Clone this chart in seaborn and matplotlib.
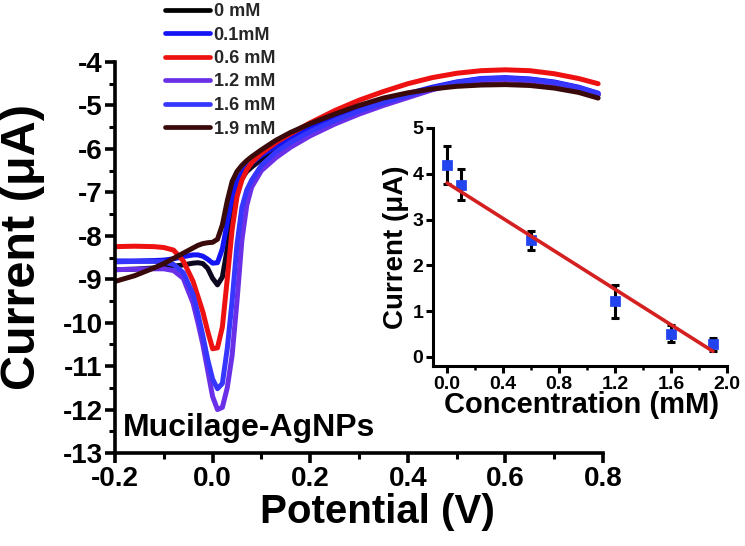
import numpy as np
import pandas as pd
import matplotlib
matplotlib.use("Agg")
import matplotlib.pyplot as plt
import seaborn as sns
from matplotlib.lines import Line2D
from matplotlib.ticker import MultipleLocator, FormatStrFormatter

sns.set_theme(style="ticks")
plt.rcParams['font.family'] = ['Liberation Sans', 'DejaVu Sans']
plt.rcParams['font.weight'] = 'bold'
plt.rcParams['axes.unicode_minus'] = False

# ---------------- data ----------------
potential = [-0.2, -0.16, -0.12, -0.1, -0.08, -0.06, -0.04, -0.03, -0.02, -0.01,
             0.0, 0.01, 0.02, 0.03, 0.04, 0.05, 0.06, 0.07, 0.08,
             0.1, 0.13, 0.16,
             0.2, 0.25, 0.3, 0.35, 0.4, 0.45, 0.5, 0.55, 0.6, 0.65, 0.7, 0.75, 0.79]

labels = ["0 mM", "0.1mM", "0.6 mM", "1.2 mM", "1.6 mM", "1.9 mM"]
colors = ["#0d0820", "#1414f5", "#ee1111", "#6a30e8", "#3636ff", "#3a0a0a"]

i_0 = [-8.78, -8.77, -8.74, -8.72, -8.70, -8.67, -8.63, -8.62, -8.64, -8.75,
       -8.98, -9.13, -8.95, -8.30, -7.50, -6.95, -6.68, -6.52, -6.42,
       -6.24, -6.00, -5.80,
       -5.56, -5.32, -5.10, -4.92, -4.76, -4.62, -4.50, -4.43, -4.41, -4.43, -4.50, -4.62, -4.76]
i_01 = [-8.58, -8.58, -8.57, -8.56, -8.53, -8.48, -8.44, -8.44, -8.47, -8.54,
        -8.63, -8.62, -8.30, -7.70, -7.10, -6.75, -6.55, -6.42, -6.32,
        -6.15, -5.93, -5.75,
        -5.52, -5.28, -5.07, -4.89, -4.73, -4.58, -4.46, -4.38, -4.36, -4.39, -4.46, -4.58, -4.72]
i_06 = [-8.25, -8.24, -8.25, -8.27, -8.33, -8.58, -9.05, -9.40, -9.75, -10.20,
        -10.60, -10.58, -10.10, -9.00, -7.86, -7.10, -6.72, -6.48, -6.32,
        -6.10, -5.85, -5.65,
        -5.40, -5.12, -4.88, -4.68, -4.50, -4.36, -4.26, -4.20, -4.18, -4.20, -4.27, -4.38, -4.50]
i_12 = [-8.78, -8.77, -8.76, -8.76, -8.80, -8.98, -9.55, -10.00, -10.50, -11.10,
        -11.70, -12.00, -11.95, -11.50, -10.75, -9.50, -8.10, -7.30, -6.88,
        -6.50, -6.20, -5.96,
        -5.70, -5.43, -5.20, -5.00, -4.82, -4.64, -4.50, -4.42, -4.40, -4.43, -4.50, -4.62, -4.75]
i_16 = [-8.60, -8.59, -8.59, -8.60, -8.66, -8.85, -9.35, -9.80, -10.30, -10.85,
        -11.30, -11.52, -11.40, -10.60, -9.50, -8.20, -7.35, -6.95, -6.72,
        -6.38, -6.07, -5.85,
        -5.60, -5.35, -5.13, -4.94, -4.77, -4.60, -4.47, -4.39, -4.37, -4.40, -4.47, -4.59, -4.72]
i_19 = [-9.05, -8.92, -8.74, -8.64, -8.52, -8.40, -8.28, -8.22, -8.18, -8.16,
        -8.15, -8.08, -7.75, -7.20, -6.75, -6.52, -6.38, -6.27, -6.18,
        -6.02, -5.80, -5.62,
        -5.42, -5.20, -5.00, -4.83, -4.71, -4.62, -4.56, -4.53, -4.52, -4.54, -4.60, -4.70, -4.83]
currents = [i_0, i_01, i_06, i_12, i_16, i_19]

# inset calibration data
conc = [0.0, 0.1, 0.6, 1.2, 1.6, 1.9]
peak_current = [4.19, 3.76, 2.55, 1.21, 0.51, 0.27]
peak_err = [0.41, 0.34, 0.21, 0.37, 0.19, 0.15]
fit_x = [0.0, 1.9]
fit_y = [3.80, 0.12]

# ---------------- long table ----------------
frames = []
for lab, cur in zip(labels, currents):
    frames.append(pd.DataFrame({"Potential": potential, "Current": cur, "Sample": lab}))
df = pd.concat(frames, ignore_index=True)
palette = dict(zip(labels, colors))

# ---------------- figure ----------------
W, H = 745, 546
fig = plt.figure(figsize=(W / 100, H / 100), dpi=100)

L, R, B, T = 115, 603, 453, 62
ax = fig.add_axes([L / W, 1 - B / H, (R - L) / W, (B - T) / H])
sns.lineplot(data=df, x="Potential", y="Current", hue="Sample", hue_order=labels,
             palette=palette, sort=False, estimator=None, lw=3.6, legend=False, ax=ax)

ax.set_xlim(-0.2, 0.8)
ax.set_ylim(-13, -4)
ax.xaxis.set_major_locator(MultipleLocator(0.2))
ax.xaxis.set_minor_locator(MultipleLocator(0.1))
ax.xaxis.set_major_formatter(FormatStrFormatter('%.1f'))
ax.yaxis.set_major_locator(MultipleLocator(1))
ax.yaxis.set_minor_locator(MultipleLocator(0.5))
ax.yaxis.set_major_formatter(FormatStrFormatter('%d'))
for s in ["top", "right"]:
    ax.spines[s].set_visible(False)
for s in ["left", "bottom"]:
    ax.spines[s].set_linewidth(2.6)
    ax.spines[s].set_color("black")
ax.tick_params(which="major", direction="out", length=7, width=2.6, labelsize=20,
               colors="black", pad=2)
ax.tick_params(which="minor", direction="out", length=4, width=2.2, colors="black")
for lbl in ax.get_xticklabels() + ax.get_yticklabels():
    lbl.set_fontweight("bold")

ax.set_xlabel("Potential (V)", fontsize=29, fontweight="bold", color="black")
ax.set_ylabel("Current (μA)", fontsize=35, fontweight="bold", color="black")
axw, axh = R - L, B - T
ax.xaxis.set_label_coords((377 - L) / axw, -(512 - B) / axh)
ax.xaxis.label.set_va("center")
ax.yaxis.set_label_coords((23 - L) / axw, (B - 247) / axh)
ax.yaxis.label.set_va("center")

ax.text((123 - L) / axw, (B - 428) / axh, "Mucilage-AgNPs", transform=ax.transAxes,
        fontsize=23, fontweight="bold", ha="left", va="center", color="black")

handles = [Line2D([0], [0], color=c, lw=3.4) for c in colors]
handles[0] = Line2D([0], [0], color="black", lw=3.4)
fig.legend(handles, labels, loc="upper left", bbox_to_anchor=(165 / W, 1 - 3 / H),
           bbox_transform=fig.transFigure, frameon=False,
           prop={"size": 13, "weight": "bold"}, handlelength=2.5, handletextpad=0.2,
           labelspacing=0.36, borderpad=0, borderaxespad=0)

# ---------------- inset ----------------
iL, iR, iB, iT = 433, 727, 366, 128
ax2 = fig.add_axes([iL / W, 1 - iB / H, (iR - iL) / W, (iB - iT) / H])
ax2.errorbar(conc, peak_current, yerr=peak_err, fmt="none", ecolor="black",
             elinewidth=2.2, capsize=3, capthick=2.2, zorder=2)
sns.scatterplot(x=conc, y=peak_current, marker="s", s=45, color="#2244ee",
                edgecolor="#2244ee", ax=ax2, zorder=3)
sns.lineplot(x=fit_x, y=fit_y, color="#d42020", lw=2.6, ax=ax2, zorder=4)
ax2.set_xlim(-0.1, 2.0)
ax2.set_ylim(-0.2, 5.0)
ax2.xaxis.set_major_locator(MultipleLocator(0.4))
ax2.xaxis.set_minor_locator(MultipleLocator(0.2))
ax2.xaxis.set_major_formatter(FormatStrFormatter('%.1f'))
ax2.yaxis.set_major_locator(MultipleLocator(1))
ax2.yaxis.set_major_formatter(FormatStrFormatter('%d'))
for s in ["top", "right"]:
    ax2.spines[s].set_visible(False)
for s in ["left", "bottom"]:
    ax2.spines[s].set_linewidth(2.2)
    ax2.spines[s].set_color("black")
ax2.tick_params(which="major", direction="out", length=5, width=2.2, labelsize=14,
                colors="black", pad=2)
ax2.tick_params(which="minor", direction="out", length=3, width=1.8, colors="black")
for lbl in ax2.get_xticklabels() + ax2.get_yticklabels():
    lbl.set_fontweight("bold")
ax2.set_xlabel("Concentration (mM)", fontsize=21, fontweight="bold", color="black")
ax2.set_ylabel("Current (μA)", fontsize=20, fontweight="bold", color="black")
iw, ih = iR - iL, iB - iT
ax2.xaxis.set_label_coords((582 - iL) / iw, -(405 - iB) / ih)
ax2.xaxis.label.set_va("center")
ax2.yaxis.set_label_coords((396 - iL) / iw, (iB - 247) / ih)
ax2.yaxis.label.set_va("center")
ax2.patch.set_alpha(0)

fig.savefig("out.png", dpi=100)
